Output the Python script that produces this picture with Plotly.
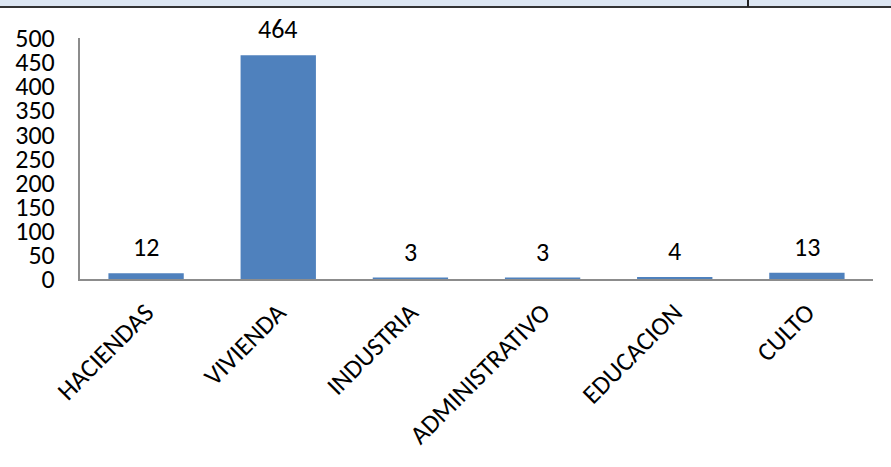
import plotly.graph_objects as go

categories = ["HACIENDAS", "VIVIENDA", "INDUSTRIA", "ADMINISTRATIVO", "EDUCACION", "CULTO"]
values = [12, 464, 3, 3, 4, 13]
y_ticks = [0, 50, 100, 150, 200, 250, 300, 350, 400, 450, 500]

W, H = 891, 467
L, R, T, B = 80, 18, 38, 188
pw, ph = W - L - R, H - T - B

FONT = "Carlito, Liberation Sans Narrow, Open Sans, sans-serif"
FS = 26
bar_color = "#4F81BD"

fig = go.Figure()
fig.add_trace(go.Bar(
    x=categories, y=values,
    marker=dict(color=bar_color, line=dict(width=0)),
    hoverinfo="skip",
))

for c, v in zip(categories, values):
    fig.add_annotation(x=c, y=v, text=str(v), showarrow=False,
                       yanchor="middle", yshift=26,
                       font=dict(family=FONT, size=FS, color="#000000"))

def px_x(x):
    return (x - L) / pw

def px_y(y):
    return 1 + (T - y) / ph

# top table fragment
fig.add_shape(type="rect", xref="paper", yref="paper",
              x0=px_x(0), x1=px_x(W), y0=px_y(6), y1=px_y(0),
              fillcolor="#DCE6F2", line=dict(width=0), layer="below")
fig.add_shape(type="line", xref="paper", yref="paper",
              x0=px_x(0), x1=px_x(W), y0=px_y(7), y1=px_y(7),
              line=dict(color="#333333", width=2))
fig.add_shape(type="line", xref="paper", yref="paper",
              x0=px_x(748), x1=px_x(748), y0=px_y(7), y1=px_y(0),
              line=dict(color="#222222", width=2))

fig.update_layout(
    width=W, height=H,
    margin=dict(l=L, r=R, t=T, b=B, autoexpand=False),
    paper_bgcolor="white", plot_bgcolor="white",
    showlegend=False,
    bargap=0.43,
    font=dict(family=FONT, size=FS, color="#000000"),
)
fig.update_xaxes(
    showline=True, linecolor="#8C8C8C", linewidth=2,
    showgrid=False, ticks="", tickangle=-45,
    tickfont=dict(family=FONT, size=FS),
    ticklabelstandoff=6, automargin=False,
)
fig.update_yaxes(
    range=[0, 500], tickvals=y_ticks,
    showline=True, linecolor="#8C8C8C", linewidth=2,
    showgrid=False, zeroline=False, ticks="",
    tickfont=dict(family=FONT, size=FS),
    ticklabelstandoff=18, automargin=False,
)

fig.write_html(
    "out.html",
    config={"displayModeBar": False, "staticPlot": True},
    post_script="document.body.style.margin='0';document.body.style.overflow='hidden';",
)
